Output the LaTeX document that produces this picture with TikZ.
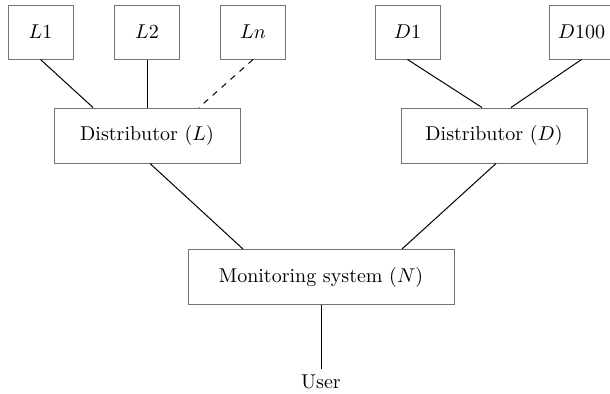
\documentclass[tikz,border=0pt]{standalone}
\usetikzlibrary{arrows}

\begin{document}
\begin{tikzpicture}[x=0.5pt,y=-0.5pt,
  leaf/.style={draw=black!55, line width=0.5pt, minimum width=32.5pt, minimum height=27pt, inner sep=0pt},
  dist/.style={draw=black!55, line width=0.5pt, minimum width=93pt, minimum height=27.5pt, inner sep=0pt},
  link/.style={line width=0.5pt}]
  \useasboundingbox (0,0) rectangle (610,393);
  \clip (0,0) rectangle (610,393);
  \node[leaf] (l1) at (40.5,32) {$L1$};
  \node[leaf] (l2) at (147,32) {$L2$};
  \node[leaf] (ln) at (253,32) {$Ln$};
  \node[leaf] (d1) at (407.5,32) {$D1$};
  \node[leaf] (d100) at (581.5,32) {$D100$};
  \node[dist] (distl) at (147,135.5) {Distributor ($L$)};
  \node[dist] (distd) at (494,135.5) {Distributor ($D$)};
  \node[dist, minimum width=133pt] (mon) at (321,277) {Monitoring system ($N$)};
  \node[inner sep=3pt] (user) at (321,382) {User};
  \path[link]
  (l1.south) edge ([xshift=-27pt]distl.north)
  (l2.south) edge (distl.north)
  (ln.south) edge[dashed] ([xshift=26pt]distl.north)
  (d1.south) edge ([xshift=-6pt]distd.north)
  (d100.south) edge ([xshift=8.5pt]distd.north)
  ([xshift=1.5pt]distl.south) edge ([xshift=-39pt]mon.north)
  ([xshift=1pt]distd.south) edge ([xshift=40.5pt]mon.north)
  (mon.south) edge (user)
  ;
\end{tikzpicture}
\end{document}
